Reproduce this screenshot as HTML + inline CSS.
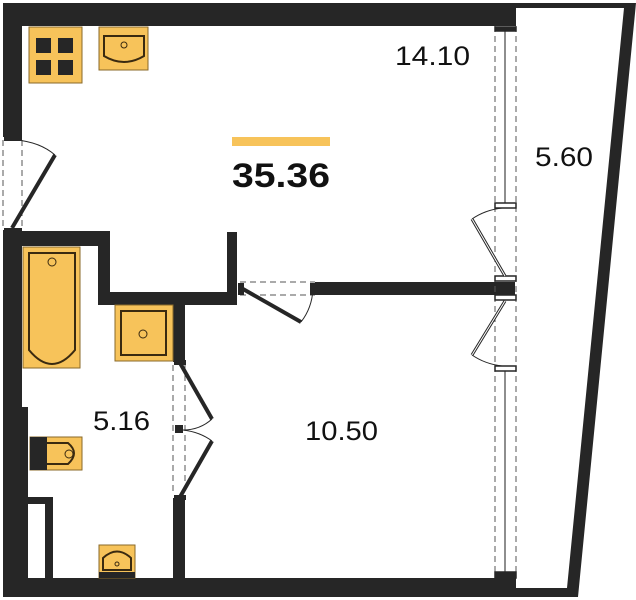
<!DOCTYPE html>
<html><head><meta charset="utf-8"><style>
html,body{margin:0;padding:0;background:#fff;}
svg{display:block;}
text{font-family:"Liberation Sans",sans-serif;fill:#111;}
</style></head><body>
<svg width="636" height="600" viewBox="0 0 636 600" xmlns="http://www.w3.org/2000/svg">
<g fill="#262626">
<polygon points="516,3 636,3 578,597 516,597 516,588 567,588 624,8 516,8"/>
<rect x="3" y="3" width="513" height="23"/>
<rect x="3" y="3" width="19" height="134"/>
<rect x="3" y="230" width="19" height="367"/>
<rect x="3" y="407" width="25" height="190"/>
<rect x="3" y="578" width="513" height="19"/>
<rect x="3" y="231" width="107" height="15"/>
<rect x="98" y="231" width="12" height="74"/>
<rect x="98" y="292" width="139" height="13"/>
<rect x="227" y="232" width="10" height="73"/>
<rect x="315" y="282" width="200" height="13"/>
<rect x="173" y="300" width="12" height="62"/>
<rect x="173" y="498" width="12" height="80"/>
<rect x="175" y="425" width="8" height="8"/>
<rect x="28" y="497" width="25" height="7"/>
<rect x="45" y="497" width="8" height="81"/>
</g>
<g stroke="#555" stroke-width="1" stroke-dasharray="6,4" fill="none">
<line x1="495" y1="26" x2="495" y2="578"/>
<line x1="516" y1="26" x2="516" y2="578"/>
<line x1="3" y1="140" x2="3" y2="228"/>
<line x1="22" y1="140" x2="22" y2="228"/>
<line x1="240" y1="282" x2="315" y2="282"/>
<line x1="240" y1="295" x2="315" y2="295"/>
<line x1="173" y1="365" x2="173" y2="495"/>
<line x1="185" y1="365" x2="185" y2="495"/>
</g>
<g stroke="#444" stroke-width="1.2" fill="none">
<line x1="505" y1="30" x2="505" y2="205"/>
<line x1="505" y1="370" x2="505" y2="574"/>
</g>
<g fill="#fff" stroke="#262626" stroke-width="1.5">
<rect x="495" y="27" width="21" height="4" fill="#262626"/>
<rect x="495" y="203" width="21" height="5"/>
<rect x="495" y="276" width="21" height="5"/>
<rect x="495" y="295" width="21" height="5"/>
<rect x="495" y="366" width="21" height="5"/>
<rect x="495" y="572" width="21" height="6" fill="#262626"/>
</g>
<g stroke="#262626" fill="none">
<line x1="505" y1="276" x2="472" y2="219" stroke-width="3"/>
<line x1="505" y1="276" x2="472" y2="219" stroke="#fff" stroke-width="1"/>
<path d="M472,219 Q485,210 502,208" stroke-width="1"/>
<line x1="505" y1="301" x2="472" y2="355" stroke-width="3"/>
<line x1="505" y1="301" x2="472" y2="355" stroke="#fff" stroke-width="1"/>
<path d="M472,355 Q485,364 502,366" stroke-width="1"/>
<line x1="12" y1="228" x2="55" y2="155" stroke-width="4"/>
<path d="M55,155 Q40,142 16,140" stroke-width="1"/>
<line x1="243" y1="289" x2="301" y2="322" stroke-width="4"/>
<path d="M301,322 Q312,308 313,289" stroke-width="1"/>
<line x1="180" y1="363" x2="212" y2="419" stroke-width="4"/>
<line x1="180" y1="497" x2="212" y2="441" stroke-width="4"/>
<path d="M212,419 Q200,430 183,430" stroke-width="1"/>
<path d="M212,441 Q200,432 183,430" stroke-width="1"/>
</g>
<g fill="#262626">
<rect x="4" y="136" width="18" height="5"/><rect x="4" y="228" width="18" height="5"/>
<rect x="238" y="283" width="6" height="12"/><rect x="310" y="283" width="6" height="12"/>
<rect x="174" y="360" width="12" height="5"/><rect x="174" y="495" width="12" height="5"/>
</g>
<g fill="#f7c35a" stroke="#8a6a2a" stroke-width="1">
<rect x="29" y="27" width="53" height="56"/>
<rect x="99" y="27" width="49" height="43"/>
<rect x="23" y="247" width="57" height="121"/>
<rect x="115" y="305" width="58" height="56"/>
<rect x="30" y="437" width="52" height="33"/>
<rect x="99" y="545" width="36" height="33"/>
</g>
<g fill="#262626">
<rect x="36" y="38" width="15" height="15"/><rect x="58" y="38" width="15" height="15"/>
<rect x="36" y="60" width="15" height="15"/><rect x="58" y="60" width="15" height="15"/>
<rect x="30" y="437" width="17" height="33"/>
<rect x="99" y="572" width="36" height="6"/>
</g>
<g fill="none" stroke="#3a2a10" stroke-width="2">
<path d="M104,36 H144 V56 Q124,68 104,56 Z"/>
<path d="M29,253 H75 V350 Q52,378 29,350 Z"/>
<rect x="121" y="311" width="45" height="44"/>
<path d="M47,443 H68 Q80,453 68,464 H47"/>
<path d="M103,570 V558 Q117,545 131,558 V570 Z"/>
</g>
<g fill="none" stroke="#3a2a10" stroke-width="1">
<circle cx="124" cy="45" r="3"/><circle cx="52" cy="262" r="4"/>
<circle cx="143" cy="334" r="4"/><circle cx="69" cy="454" r="4"/><circle cx="117" cy="564" r="2"/>
</g>
<rect x="232" y="137" width="98" height="9" fill="#f7c35a"/>
<text x="232" y="187" font-size="34" font-weight="bold" textLength="98" lengthAdjust="spacingAndGlyphs">35.36</text>
<text x="395" y="65" font-size="27" textLength="75" lengthAdjust="spacingAndGlyphs">14.10</text>
<text x="535" y="166" font-size="27" textLength="58" lengthAdjust="spacingAndGlyphs">5.60</text>
<text x="93" y="430" font-size="27" textLength="57" lengthAdjust="spacingAndGlyphs">5.16</text>
<text x="305" y="440" font-size="27" textLength="73" lengthAdjust="spacingAndGlyphs">10.50</text>
</svg>
</body></html>
